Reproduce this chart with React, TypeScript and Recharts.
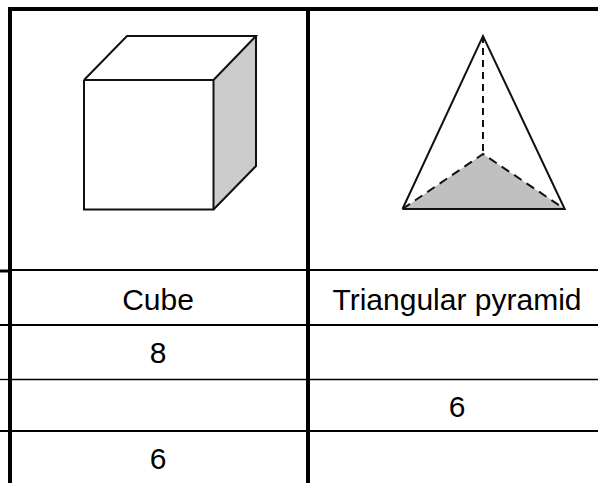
import { ComposedChart, Line, Area, XAxis, YAxis, LabelList } from "recharts";

const W = 598;
const H = 483;

// table rules in pixels
const heavyRules = [
    { name: "top", pts: [{ x: 8, y: 9 }, { x: 598, y: 9 }] },
    { name: "left", pts: [{ x: 10, y: 7 }, { x: 10, y: 483 }] },
    { name: "mid", pts: [{ x: 308, y: 7 }, { x: 308, y: 483 }] },
];
const rowRules = [
    { y: 270, w: 2 },
    { y: 325, w: 2 },
    { y: 379.5, w: 1.3 },
    { y: 431, w: 2 },
];
const stubs = [
    { y: 271, w: 3 },
    { y: 325, w: 2 },
    { y: 379.5, w: 1.3 },
    { y: 431, w: 2 },
];

// cube
const cubeFront = [
    { x: 84, y: 80 }, { x: 213.5, y: 80 }, { x: 213.5, y: 209.5 }, { x: 84, y: 209.5 }, { x: 84, y: 80 },
];
const cubeTop = [
    { x: 84, y: 80 }, { x: 127, y: 36 }, { x: 256, y: 36 }, { x: 213.5, y: 80 },
];
const cubeSide = [
    { x: 256, y: 36 }, { x: 256, y: 166 }, { x: 213.5, y: 209.5 },
];
const cubeShade = [
    { x: 213.5, range: [209.5, 80] },
    { x: 256, range: [166, 36] },
];

// pyramid
const pyramidSolid = [
    { x: 402.5, y: 209 }, { x: 483, y: 36 }, { x: 564.7, y: 209 }, { x: 402.5, y: 209 },
];
const pyramidDashA = [{ x: 483, y: 36 }, { x: 483, y: 154 }];
const pyramidDashB = [{ x: 402.5, y: 209 }, { x: 483, y: 154 }, { x: 564.7, y: 209 }];
const pyramidShade = [
    { x: 402.5, range: [209, 209] },
    { x: 483, range: [209, 154] },
    { x: 564.7, range: [209, 209] },
];

const cellLabels = [
    { x: 158, y: 299, text: "Cube" },
    { x: 457, y: 299, text: "Triangular pyramid" },
    { x: 158, y: 352, text: "8" },
    { x: 457, y: 406, text: "6" },
    { x: 158, y: 458, text: "6" },
];

const noAnim = { isAnimationActive: false, dot: false, activeDot: false, legendType: "none" as const };

export default function App() {
    return (
        <div style={{ position: "absolute", left: 0, top: 0, width: W, height: H, background: "#fff" }}>
            <ComposedChart width={W} height={H} margin={{ top: 0, right: 0, bottom: 0, left: 0 }}>
                <XAxis dataKey="x" type="number" domain={[0, W]} hide />
                <YAxis type="number" domain={[0, H]} reversed hide />

                <Area data={cubeShade} dataKey="range" stroke="none" fill="#cccccc" fillOpacity={1} isAnimationActive={false} dot={false} activeDot={false} />
                <Area data={pyramidShade} dataKey="range" stroke="none" fill="#c0c0c0" fillOpacity={1} isAnimationActive={false} dot={false} activeDot={false} />

                {rowRules.map(r => (
                    <Line key={"row" + r.y} data={[{ x: 10, y: r.y }, { x: W, y: r.y }]} dataKey="y" stroke="#000" strokeWidth={r.w} {...noAnim} />
                ))}
                {stubs.map(r => (
                    <Line key={"stub" + r.y} data={[{ x: 0, y: r.y }, { x: 10, y: r.y }]} dataKey="y" stroke="#000" strokeWidth={r.w} {...noAnim} />
                ))}
                {heavyRules.map(r => (
                    <Line key={r.name} data={r.pts} dataKey="y" stroke="#000" strokeWidth={4} {...noAnim} />
                ))}

                <Line data={cubeFront} dataKey="y" stroke="#111" strokeWidth={2} {...noAnim} />
                <Line data={cubeTop} dataKey="y" stroke="#111" strokeWidth={2} {...noAnim} />
                <Line data={cubeSide} dataKey="y" stroke="#111" strokeWidth={2} {...noAnim} />

                <Line data={pyramidSolid} dataKey="y" stroke="#111" strokeWidth={2} {...noAnim} />
                <Line data={pyramidDashA} dataKey="y" stroke="#111" strokeWidth={2} strokeDasharray="7 5" {...noAnim} />
                <Line data={pyramidDashB} dataKey="y" stroke="#111" strokeWidth={2} strokeDasharray="9 6" {...noAnim} />

                <Line data={cellLabels} dataKey="y" stroke="none" {...noAnim}>
                    <LabelList dataKey="text" position="center" fill="#000" fontSize={30} fontFamily="Liberation Sans" />
                </Line>
            </ComposedChart>
        </div>
    );
}
